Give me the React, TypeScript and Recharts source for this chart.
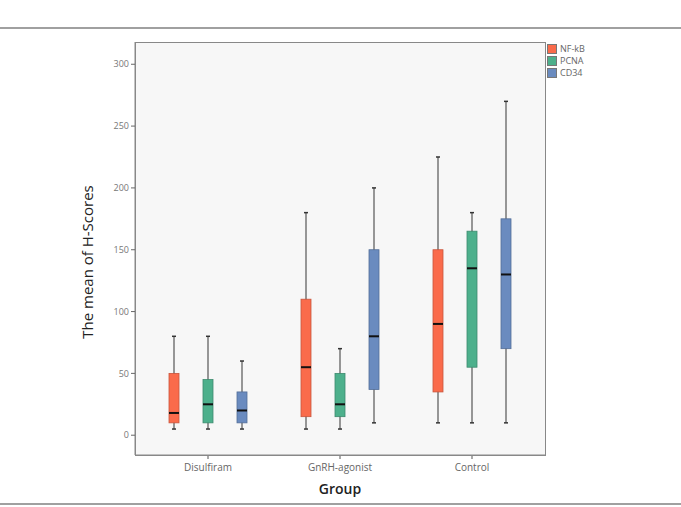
import { ComposedChart, Bar, XAxis, YAxis, CartesianGrid } from 'recharts';

// box plot stats per group: [min, q1, median, q3, max]
const groups = ['Disulfiram', 'GnRH-agonist', 'Control'];
const nfkb = [[5, 10, 18, 50, 80], [5, 15, 55, 110, 180], [10, 35, 90, 150, 225]];
const pcna = [[5, 10, 25, 45, 80], [5, 15, 25, 50, 70], [10, 55, 135, 165, 180]];
const cd34 = [[5, 10, 20, 35, 60], [10, 37, 80, 150, 200], [10, 70, 130, 175, 270]];
const yTicks = [0, 50, 100, 150, 200, 250, 300];

const series = [
  { key: 'nfkb', name: 'NF-kB', stats: nfkb, fill: '#FA6B4B', stroke: '#C8553C' },
  { key: 'pcna', name: 'PCNA', stats: pcna, fill: '#4DB08C', stroke: '#3D8A6E' },
  { key: 'cd34', name: 'CD34', stats: cd34, fill: '#6A8BBF', stroke: '#536E98' },
];

const data = groups.map((g, i) => {
  const row: any = { group: g };
  series.forEach((s) => {
    row[s.key] = [s.stats[i][0], s.stats[i][4]];
    row[s.key + 'Stats'] = s.stats[i];
  });
  return row;
});

const makeBox = (key: string, fill: string, stroke: string) => (props: any) => {
  const { x, y, width, height, payload } = props;
  const [min, q1, med, q3, max] = payload[key + 'Stats'];
  const top = Math.min(y, y + height);
  const h = Math.abs(height);
  const k = h / (max - min);
  const py = (v: number) => top + (max - v) * k;
  const cx = x + width / 2;
  return (
    <g>
      <line x1={cx} x2={cx} y1={py(max)} y2={py(min)} stroke="#555" strokeWidth={1.2} />
      <line x1={cx - 2} x2={cx + 2} y1={py(max)} y2={py(max)} stroke="#333" strokeWidth={1.5} />
      <line x1={cx - 2} x2={cx + 2} y1={py(min)} y2={py(min)} stroke="#333" strokeWidth={1.5} />
      <rect x={x} y={py(q3)} width={width} height={py(q1) - py(q3)} fill={fill} stroke={stroke} strokeWidth={0.8} />
      <line x1={x} x2={x + width} y1={py(med)} y2={py(med)} stroke="#111" strokeWidth={2} />
    </g>
  );
};

export default function App() {
  return (
    <div style={{ position: 'fixed', left: 0, top: 0, width: 681, height: 507, background: '#fff', fontFamily: '"Open Sans", sans-serif' }}>
      <div style={{ position: 'absolute', left: 0, top: 27, width: 681, height: 1.5, background: '#a0a0a0' }} />
      <div style={{ position: 'absolute', left: 0, top: 503, width: 681, height: 1.5, background: '#a0a0a0' }} />
      <ComposedChart width={681} height={507} data={data} margin={{ top: 42, right: 136, left: 90, bottom: 22 }} barSize={10} barGap={24}>
        <CartesianGrid fill="#f7f7f7" horizontal={false} vertical={false} />
        <XAxis
          dataKey="group"
          padding={{ left: 7, right: 7 }}
          height={30}
          tickSize={4}
          tickMargin={5}
          tick={{ fill: '#666', fontSize: 10 }}
          tickLine={{ stroke: '#555' }}
          axisLine={{ stroke: '#888' }}
        />
        <YAxis
          domain={[-16, 318]}
          ticks={yTicks}
          width={45}
          tickSize={4}
          tick={{ fill: '#777', fontSize: 9 }}
          tickLine={{ stroke: '#666' }}
          axisLine={{ stroke: '#888' }}
        />
        {series.map((s) => (
          <Bar key={s.key} dataKey={s.key} name={s.name} fill={s.fill} shape={makeBox(s.key, s.fill, s.stroke)} isAnimationActive={false} />
        ))}
      </ComposedChart>
      {/* frame around the plot area */}
      <div style={{ position: 'absolute', left: 135, top: 42, width: 409, height: 412, border: '1px solid #888', pointerEvents: 'none' }} />
      <div style={{ position: 'absolute', left: 87 - 120, top: 262 - 10, width: 240, height: 20, lineHeight: '20px', textAlign: 'center', transform: 'rotate(-90deg)', fontSize: 15, color: '#222' }}>
        The mean of H-Scores
      </div>
      <div style={{ position: 'absolute', left: 290, top: 479, width: 100, textAlign: 'center', fontSize: 14, fontWeight: 600, color: '#222' }}>Group</div>
      <div style={{ position: 'absolute', left: 547, top: 43 }}>
        {series.map((s) => (
          <div key={s.key} style={{ display: 'flex', alignItems: 'center', height: 12 }}>
            <div style={{ width: 8, height: 8, background: s.fill, border: '1px solid #777', marginRight: 3 }} />
            <span style={{ fontSize: 9, color: '#666', lineHeight: '12px' }}>{s.name}</span>
          </div>
        ))}
      </div>
    </div>
  );
}
